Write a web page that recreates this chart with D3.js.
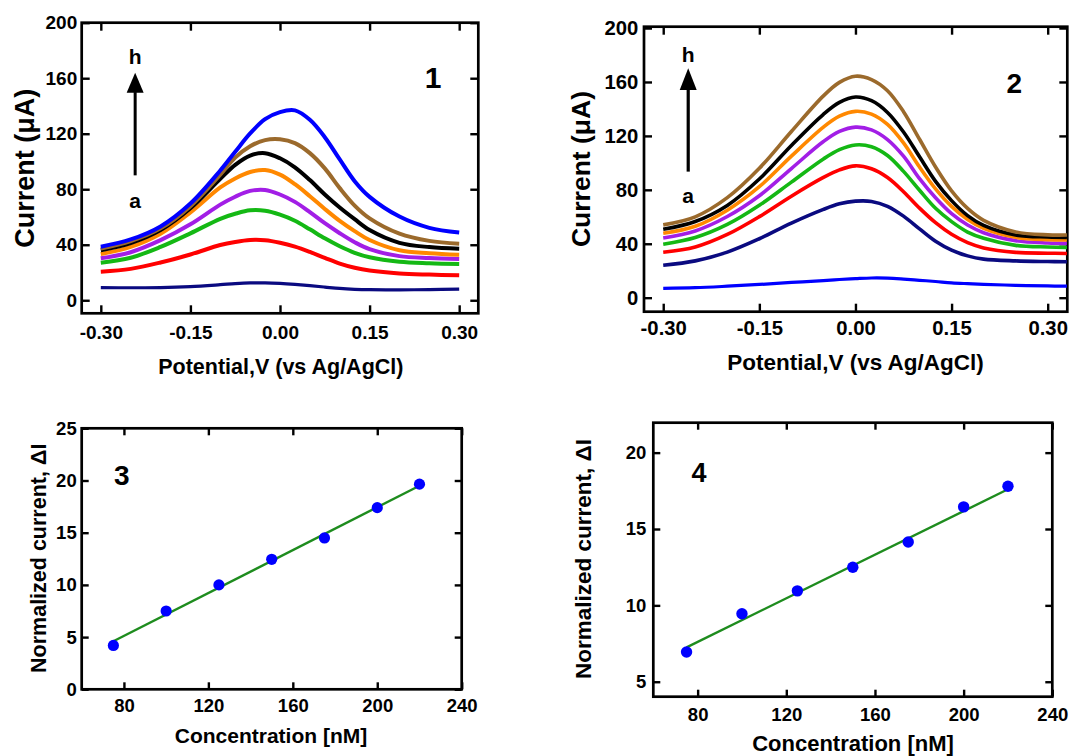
<!DOCTYPE html>
<html>
<head>
<meta charset="utf-8">
<script src="https://cdnjs.cloudflare.com/ajax/libs/d3/7.8.5/d3.min.js"></script>
<style>
  body { margin: 0; background: #fff; }
  svg text { font-family: "Liberation Sans", Arial, sans-serif; font-weight: bold; fill: #000; }
</style>
</head>
<body>
<svg id="chart" width="1070" height="756"></svg>
<script>
// ---- panel 1 : DPV curves a..h ----
var potential1 = [-0.30, -0.25, -0.20, -0.15, -0.10, -0.075, -0.05, -0.025, 0.00, 0.025, 0.05, 0.075, 0.10, 0.125, 0.15, 0.20, 0.25, 0.30];
var p1a = [9.1, 9.0, 9.1, 9.8, 11.2, 12.0, 12.5, 12.5, 12.1, 11.4, 10.5, 9.5, 8.5, 7.9, 7.6, 7.5, 7.7, 8.0];
var p1b = [20.6, 22.6, 27.2, 33.0, 39.8, 42.0, 43.4, 43.2, 41.4, 38.6, 34.8, 30.5, 26.4, 23.4, 21.4, 19.3, 18.5, 18.0];
var p1c = [27.1, 30.6, 38.4, 48.2, 58.7, 62.3, 64.8, 64.5, 61.7, 57.3, 51.1, 44.6, 38.9, 34.2, 31.0, 27.8, 26.7, 26.1];
var p1d = [30.2, 34.6, 43.3, 54.7, 68.9, 74.6, 78.8, 79.5, 76.2, 70.9, 63.5, 55.5, 48.3, 41.8, 36.8, 31.8, 30.4, 29.7];
var p1e = [33.3, 38.4, 47.9, 63.3, 81.3, 87.8, 92.4, 93.8, 90.5, 83.6, 75.0, 65.8, 57.2, 49.8, 43.4, 36.0, 33.9, 32.8];
var p1f = [36.0, 41.2, 50.6, 66.3, 87.5, 97.6, 104.3, 106.0, 102.3, 95.8, 86.6, 76.2, 66.8, 58.4, 50.6, 41.4, 38.3, 37.1];
var p1g = [37.2, 42.6, 51.8, 67.8, 90.5, 102.8, 111.0, 115.4, 116.0, 113.2, 106.0, 95.0, 80.8, 68.2, 59.0, 48.0, 42.8, 40.7];
var p1h = [38.6, 43.8, 53.2, 69.7, 93.5, 107.0, 120.2, 130.5, 135.6, 136.8, 130.0, 117.5, 101.5, 85.8, 74.5, 60.3, 52.2, 48.8];
var colors1 = ["#0a0a80", "#ff0000", "#14b814", "#a21ee6", "#ff8800", "#000000", "#9b6a2c", "#0000ff"];

// ---- panel 2 : DPV curves a..h ----
var potential2 = [-0.30, -0.25, -0.20, -0.15, -0.10, -0.05, -0.025, 0.00, 0.025, 0.05, 0.075, 0.10, 0.125, 0.15, 0.175, 0.20, 0.25, 0.30, 0.33];
var p2a = [6.9, 7.4, 8.5, 9.8, 11.3, 12.7, 13.5, 14.1, 14.6, 14.5, 13.8, 12.9, 12.0, 11.0, 10.4, 9.9, 9.2, 8.7, 8.5];
var p2b = [24.0, 27.3, 33.8, 43.7, 55.3, 65.5, 69.6, 71.6, 71.4, 67.8, 60.5, 51.0, 41.8, 35.2, 31.0, 28.6, 27.3, 26.8, 26.6];
var p2c = [33.7, 37.6, 46.9, 60.1, 75.3, 89.2, 94.8, 97.8, 95.6, 89.1, 78.6, 66.4, 55.6, 47.0, 40.8, 36.9, 33.6, 33.0, 32.8];
var p2d = [39.6, 44.6, 54.3, 68.5, 85.7, 102.9, 109.8, 113.3, 112.0, 105.5, 93.7, 79.7, 66.3, 56.4, 48.7, 44.1, 38.8, 37.6, 37.3];
var p2e = [44.3, 49.5, 60.2, 75.6, 95.8, 115.8, 123.3, 126.5, 124.5, 117.3, 105.0, 88.3, 74.1, 62.3, 53.9, 48.2, 42.3, 40.6, 40.3];
var p2f = [47.8, 53.0, 64.9, 82.3, 105.0, 126.5, 134.6, 138.2, 136.2, 128.5, 114.8, 96.9, 80.7, 67.7, 58.0, 51.5, 44.8, 43.0, 42.8];
var p2g = [50.7, 56.5, 68.4, 88.0, 112.9, 136.0, 144.8, 148.8, 146.1, 137.4, 122.9, 104.5, 86.3, 72.0, 60.9, 53.6, 46.5, 45.0, 44.7];
var p2h = [54.0, 60.0, 74.2, 96.0, 123.3, 149.7, 159.7, 164.3, 161.8, 153.5, 138.0, 117.5, 96.9, 79.2, 66.2, 57.4, 48.8, 46.6, 46.5];
var colors2 = ["#0000ff", "#0a0a80", "#ff0000", "#14b814", "#a21ee6", "#ff8800", "#000000", "#9b6a2c"];

// ---- panels 3 & 4 : calibration ----
var concentration = [75, 100, 125, 150, 175, 200, 220];
var deltaI3 = [4.2, 7.5, 10.0, 12.45, 14.5, 17.4, 19.65];
var deltaI4 = [6.95, 9.45, 10.95, 12.5, 14.15, 16.45, 17.8];
var fitConc = [75, 220];
var fit3 = [4.6, 19.5];
var fit4 = [7.25, 17.6];

// tick values
var potentialTicks = [-0.30, -0.15, 0.00, 0.15, 0.30];
var currentTicks = [0, 40, 80, 120, 160, 200];
var concTicks = [80, 120, 160, 200, 240];
var dI3Ticks = [0, 5, 10, 15, 20, 25];
var dI4Ticks = [5, 10, 15, 20];

var svg = d3.select("#chart");

function drawAxes(g, x, y, o) {
    var x0 = x.range()[0], x1 = x.range()[1], y0 = y.range()[0], y1 = y.range()[1];
    var b = g.append("g").attr("transform", "translate(0," + y0 + ")")
        .call(d3.axisBottom(x).tickValues(o.xTicks).tickFormat(o.xFmt)
            .tickSizeInner(-o.tick).tickSizeOuter(0).tickPadding(o.xPad));
    var t = g.append("g").attr("transform", "translate(0," + y1 + ")")
        .call(d3.axisTop(x).tickValues(o.xTicks).tickFormat("")
            .tickSizeInner(-o.tick).tickSizeOuter(0));
    var l = g.append("g").attr("transform", "translate(" + x0 + ",0)")
        .call(d3.axisLeft(y).tickValues(o.yTicks).tickFormat(o.yFmt)
            .tickSizeInner(-o.tick).tickSizeOuter(0).tickPadding(o.yPad));
    var r = g.append("g").attr("transform", "translate(" + x1 + ",0)")
        .call(d3.axisRight(y).tickValues(o.yTicks).tickFormat("")
            .tickSizeInner(-o.tick).tickSizeOuter(0));
    [b, t, l, r].forEach(function(a) {
        a.select(".domain").remove();
        a.selectAll("line").attr("stroke", "#000").attr("stroke-width", 2.4);
        a.attr("font-size", o.fs).attr("font-family", null);
    });
    g.append("rect")
        .attr("x", x0).attr("y", y1)
        .attr("width", x1 - x0).attr("height", y0 - y1)
        .attr("fill", "none").attr("stroke", "#000").attr("stroke-width", 2.7);
}

function yTitle(g, text, cx, cy, fs) {
    g.append("text")
        .attr("transform", "translate(" + cx + "," + cy + ") rotate(-90)")
        .attr("text-anchor", "middle")
        .attr("font-size", fs)
        .text(text);
}

function xTitle(g, text, cx, by, fs) {
    g.append("text")
        .attr("x", cx).attr("y", by)
        .attr("text-anchor", "middle")
        .attr("font-size", fs)
        .text(text);
}

function potFmt(d) { return d.toFixed(2); }

// ================= panel 1 =================
var g1 = svg.append("g");
var x1 = d3.scaleLinear().domain([-0.332, 0.332]).range([81.7, 478.3]);
var y1 = d3.scaleLinear().domain([-9.4, 200]).range([313.3, 22.7]);
drawAxes(g1, x1, y1, {xTicks: potentialTicks, yTicks: currentTicks, xFmt: potFmt, yFmt: d3.format("d"),
    tick: 8, xPad: 12.5, yPad: 4.5, fs: 19});

var line1 = d3.line()
    .x(function(d){ return x1(d[0]); })
    .y(function(d){ return y1(d[1]); })
    .curve(d3.curveCatmullRom.alpha(0.5));

[p1a, p1b, p1c, p1d, p1e, p1f, p1g, p1h].forEach(function(s, i) {
    g1.append("path")
        .datum(potential1.map(function(v, j){ return [v, s[j]]; }))
        .attr("d", line1)
        .attr("fill", "none")
        .attr("stroke", colors1[i])
        .attr("stroke-width", i == 0 ? 3.2 : 4)
        .attr("stroke-linejoin", "round");
});

// arrow a -> h
g1.append("line")
    .attr("x1", x1(-0.2425)).attr("x2", x1(-0.2425))
    .attr("y1", y1(90)).attr("y2", y1(150))
    .attr("stroke", "#000").attr("stroke-width", 3);
g1.append("path")
    .attr("d", "M" + (x1(-0.2425) - 8.5) + "," + y1(149.5) + "L" + (x1(-0.2425) + 8.5) + "," + y1(149.5) + "L" + x1(-0.2425) + "," + y1(164) + "Z")
    .attr("fill", "#000");
g1.append("text").attr("x", x1(-0.2425)).attr("y", y1(170.3)).attr("text-anchor", "middle").attr("font-size", 21).text("h");
g1.append("text").attr("x", x1(-0.2425)).attr("y", y1(66.5)).attr("text-anchor", "middle").attr("font-size", 21).text("a");
g1.append("text").attr("x", x1(0.2565)).attr("y", y1(152.8)).attr("text-anchor", "middle").attr("font-size", 30).text("1");

yTitle(g1, "Current (\u03bcA)", 33.5, 168.3, 27);
xTitle(g1, "Potential,V (vs Ag/AgCl)", 280.8, 374.3, 21.5);

// ================= panel 2 =================
var g2 = svg.append("g");
var x2 = d3.scaleLinear().domain([-0.33, 0.3306]).range([644, 1067.3]);
var y2 = d3.scaleLinear().domain([-10.4, 201]).range([311.7, 26.7]);
drawAxes(g2, x2, y2, {xTicks: potentialTicks, yTicks: currentTicks, xFmt: potFmt, yFmt: d3.format("d"),
    tick: 8, xPad: 9.3, yPad: 5.7, fs: 20.3});

var line2 = d3.line()
    .x(function(d){ return x2(d[0]); })
    .y(function(d){ return y2(d[1]); })
    .curve(d3.curveCatmullRom.alpha(0.5));

[p2a, p2b, p2c, p2d, p2e, p2f, p2g, p2h].forEach(function(s, i) {
    g2.append("path")
        .datum(potential2.map(function(v, j){ return [v, s[j]]; }))
        .attr("d", line2)
        .attr("fill", "none")
        .attr("stroke", colors2[i])
        .attr("stroke-width", i == 0 ? 3.2 : 3.6)
        .attr("stroke-linejoin", "round");
});

g2.append("line")
    .attr("x1", x2(-0.261)).attr("x2", x2(-0.261))
    .attr("y1", y2(93.5)).attr("y2", y2(155))
    .attr("stroke", "#000").attr("stroke-width", 3.2);
g2.append("path")
    .attr("d", "M" + (x2(-0.261) - 8.5) + "," + y2(154.1) + "L" + (x2(-0.261) + 8.5) + "," + y2(154.1) + "L" + x2(-0.261) + "," + y2(170.2) + "Z")
    .attr("fill", "#000");
g2.append("text").attr("x", x2(-0.261)).attr("y", y2(175.1)).attr("text-anchor", "middle").attr("font-size", 21).text("h");
g2.append("text").attr("x", x2(-0.261)).attr("y", y2(70.1)).attr("text-anchor", "middle").attr("font-size", 21).text("a");
g2.append("text").attr("x", x2(0.248)).attr("y", y2(152.1)).attr("text-anchor", "middle").attr("font-size", 28).text("2");

yTitle(g2, "Current (\u03bcA)", 590, 169, 26.5);
xTitle(g2, "Potential,V (vs Ag/AgCl)", 855.5, 370, 22.5);

// ================= panel 3 =================
var g3 = svg.append("g");
var x3 = d3.scaleLinear().domain([60, 240]).range([81.7, 461.7]);
var y3 = d3.scaleLinear().domain([0, 25]).range([689.3, 428.3]);
drawAxes(g3, x3, y3, {xTicks: concTicks, yTicks: dI3Ticks, xFmt: d3.format("d"), yFmt: d3.format("d"),
    tick: 7, xPad: 9.3, yPad: 5, fs: 18.5});

g3.append("line")
    .attr("x1", x3(fitConc[0])).attr("y1", y3(fit3[0]))
    .attr("x2", x3(fitConc[1])).attr("y2", y3(fit3[1]))
    .attr("stroke", "#1e8c1e").attr("stroke-width", 2.4);
g3.selectAll(".dot")
    .data(concentration)
    .enter()
    .append("circle")
    .attr("class", "dot")
    .attr("cx", function(d){ return x3(d); })
    .attr("cy", function(d, i){ return y3(deltaI3[i]); })
    .attr("r", 5.6)
    .attr("fill", "#0000ff");
g3.append("text").attr("x", x3(79)).attr("y", y3(19.6)).attr("text-anchor", "middle").attr("font-size", 28).text("3");

yTitle(g3, "Normalized current, \u0394I", 46, 558.3, 21.5);
xTitle(g3, "Concentration [nM]", 271, 743.3, 21);

// ================= panel 4 =================
var g4 = svg.append("g");
var x4 = d3.scaleLinear().domain([60, 240]).range([653.3, 1052.3]);
var y4 = d3.scaleLinear().domain([4.02, 21.96]).range([696.7, 422.7]);
drawAxes(g4, x4, y4, {xTicks: concTicks, yTicks: dI4Ticks, xFmt: d3.format("d"), yFmt: d3.format("d"),
    tick: 7, xPad: 11.5, yPad: 7, fs: 18.5});

g4.append("line")
    .attr("x1", x4(fitConc[0])).attr("y1", y4(fit4[0]))
    .attr("x2", x4(fitConc[1])).attr("y2", y4(fit4[1]))
    .attr("stroke", "#1e8c1e").attr("stroke-width", 2.4);
g4.selectAll(".dot")
    .data(concentration)
    .enter()
    .append("circle")
    .attr("class", "dot")
    .attr("cx", function(d){ return x4(d); })
    .attr("cy", function(d, i){ return y4(deltaI4[i]); })
    .attr("r", 5.7)
    .attr("fill", "#0000ff");
g4.append("text").attr("x", x4(80.6)).attr("y", y4(18.08)).attr("text-anchor", "middle").attr("font-size", 27).text("4");

yTitle(g4, "Normalized current, \u0394I", 590.7, 559, 22.5);
xTitle(g4, "Concentration [nM]", 853, 750.5, 22);
</script>
</body>
</html>
